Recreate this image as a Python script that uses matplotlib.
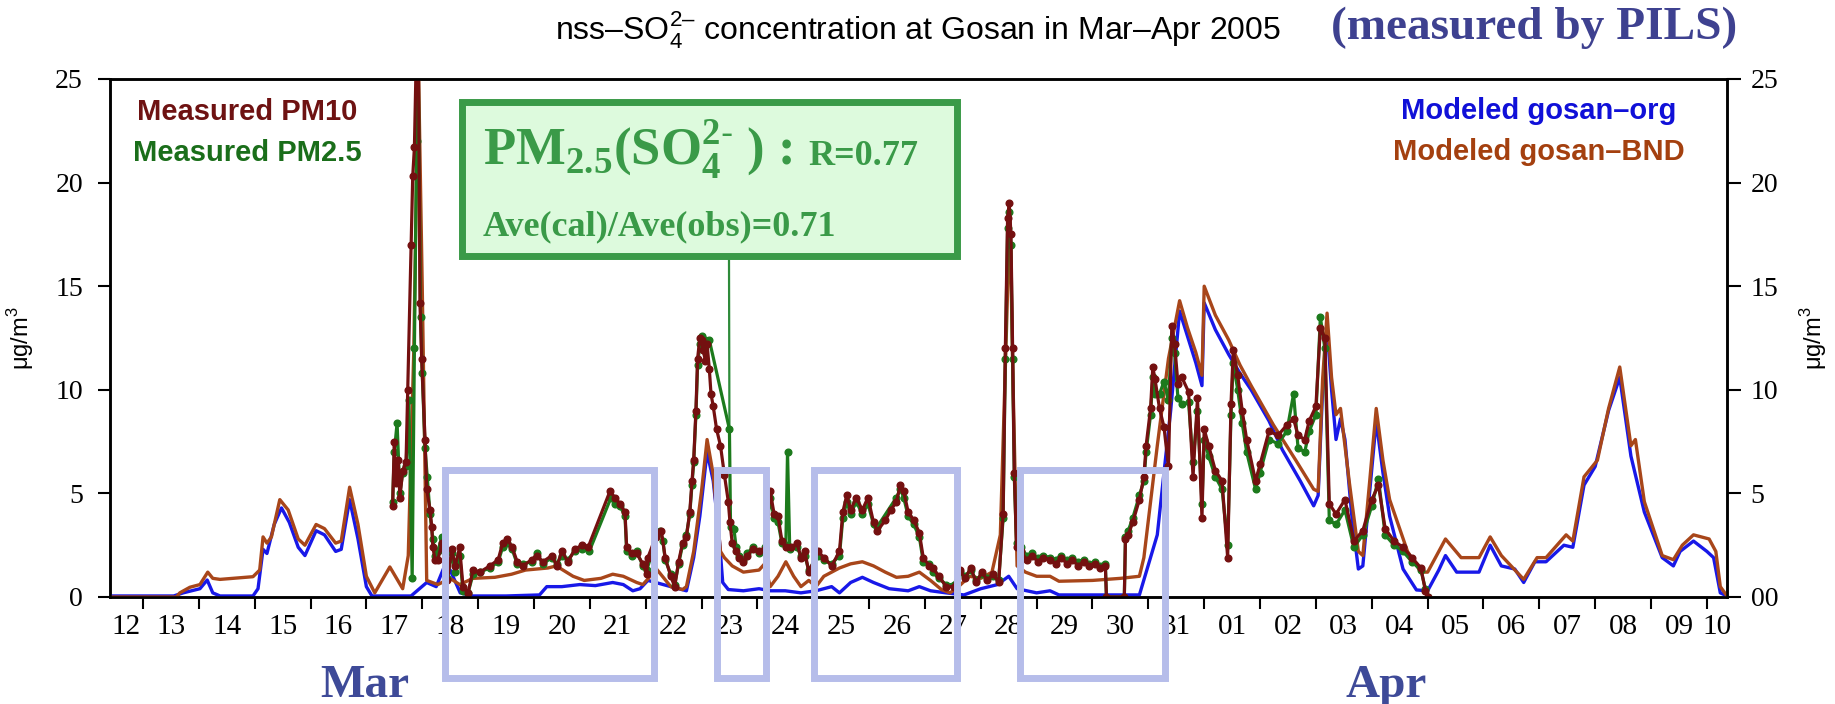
import matplotlib
matplotlib.use('Agg')
import matplotlib.pyplot as plt
from matplotlib.patches import Rectangle

plt.rcParams['mathtext.fontset'] = 'custom'
plt.rcParams['mathtext.rm'] = 'Liberation Sans'
plt.rcParams['mathtext.bf'] = 'Liberation Serif:bold'

# x = day of March (Apr 1 = 32), value in ug/m3
org = [(12.41, 0.05), (13.55, 0.05), (13.72, 0.2), (14.02, 0.4), (14.15, 0.82), (14.25, 0.2),
       (14.38, 0.05), (14.97, 0.05), (15.06, 0.4), (15.15, 2.3), (15.22, 2.1), (15.35, 3.5),
       (15.48, 4.3), (15.62, 3.6), (15.78, 2.4), (15.9, 2.0), (16.1, 3.2), (16.25, 3.0),
       (16.45, 2.2), (16.55, 2.3), (16.7, 4.7), (16.85, 2.8), (17.0, 0.5), (17.1, 0.05),
       (17.8, 0.05), (17.95, 0.4), (18.08, 0.7), (18.25, 0.5), (18.4, 1.5), (18.5, 1.3),
       (18.68, 0.2), (18.9, 0.05), (19.5, 0.05), (20.1, 0.1), (20.23, 0.5), (20.5, 0.5),
       (20.82, 0.6), (21.1, 0.55), (21.41, 0.7), (21.6, 0.6), (21.77, 0.3), (21.9, 0.4),
       (22.04, 0.8), (22.18, 0.7), (22.45, 0.5), (22.73, 0.3), (22.86, 1.9), (22.97, 3.9),
       (23.10, 7.0), (23.21, 5.6), (23.31, 3.1), (23.38, 0.7), (23.48, 0.36), (23.75, 0.3),
       (24.03, 0.4), (24.23, 0.3), (24.5, 0.3), (24.78, 0.2), (25.05, 0.3), (25.33, 0.5),
       (25.47, 0.2), (25.67, 0.7), (25.88, 0.95), (26.08, 0.7), (26.36, 0.4), (26.7, 0.3),
       (26.9, 0.5), (27.1, 0.3), (27.38, 0.2), (27.7, 0.1), (28.0, 0.4), (28.3, 0.6),
       (28.5, 1.0), (28.65, 0.4), (29.0, 0.2), (29.24, 0.3), (29.4, 0.1), (30.84, 0.1),
       (31.16, 3.0), (31.4, 9.0), (31.56, 13.8), (31.7, 12.6), (31.85, 11.3), (31.96, 10.2),
       (32.0, 14.2), (32.2, 12.9), (32.44, 11.7), (32.64, 10.8), (32.84, 10.0), (33.16, 8.5),
       (33.4, 7.1), (33.72, 5.6), (33.96, 4.4), (34.04, 4.9), (34.12, 10.0), (34.2, 13.0),
       (34.28, 10.0), (34.36, 7.6), (34.44, 8.6), (34.52, 7.6), (34.64, 4.0), (34.76, 1.35),
       (34.84, 1.5), (34.96, 5.0), (35.08, 8.5), (35.2, 6.0), (35.32, 3.9), (35.56, 1.35),
       (35.8, 0.34), (36.0, 0.3), (36.2, 1.3), (36.32, 2.0), (36.52, 1.2), (36.92, 1.2),
       (37.12, 2.5), (37.32, 1.5), (37.56, 1.35), (37.72, 0.7), (37.92, 1.7), (38.12, 1.7),
       (38.44, 2.5), (38.6, 2.4), (38.8, 5.4), (39.0, 6.3), (39.24, 9.0), (39.44, 10.6),
       (39.64, 6.8), (39.88, 4.1), (40.2, 1.9), (40.4, 1.5), (40.52, 2.2), (40.76, 2.7),
       (41.0, 2.2), (41.12, 1.9), (41.24, 0.2), (41.36, 0.05)]

bnd = [(12.41, 0.0), (13.6, 0.0), (13.66, 0.2), (13.84, 0.47), (14.02, 0.6), (14.16, 1.2),
       (14.25, 0.9), (14.38, 0.85), (14.97, 0.98), (15.09, 1.3), (15.15, 2.9), (15.22, 2.6),
       (15.3, 2.9), (15.45, 4.7), (15.6, 4.2), (15.78, 2.8), (15.9, 2.5), (16.1, 3.5),
       (16.25, 3.3), (16.45, 2.6), (16.55, 2.7), (16.7, 5.3), (16.85, 3.5), (17.0, 1.0),
       (17.15, 0.2), (17.42, 1.45), (17.65, 0.4), (17.75, 2.0), (17.85, 12.0), (17.93, 26.0),
       (18.0, 15.0), (18.08, 0.8), (18.28, 0.6), (18.5, 0.9), (18.67, 0.6), (18.91, 0.9),
       (19.3, 0.95), (19.6, 1.1), (19.85, 1.3), (20.25, 1.4), (20.4, 1.5), (20.7, 1.0),
       (20.9, 0.8), (21.2, 0.9), (21.41, 1.1), (21.6, 1.0), (21.84, 0.7), (21.95, 0.6),
       (22.05, 0.9), (22.18, 1.4), (22.45, 0.5), (22.66, 0.36), (22.73, 0.5), (22.86, 2.2),
       (23.0, 5.1), (23.1, 7.6), (23.21, 5.9), (23.34, 2.2), (23.41, 1.9), (23.55, 1.5),
       (23.75, 1.2), (24.03, 1.3), (24.13, 1.6), (24.23, 0.5), (24.37, 1.0), (24.51, 1.7),
       (24.65, 1.0), (24.78, 0.5), (24.92, 0.8), (25.05, 0.5), (25.19, 1.0), (25.33, 1.2),
       (25.47, 1.4), (25.67, 1.6), (25.88, 1.7), (26.08, 1.5), (26.29, 1.2), (26.49, 0.95),
       (26.7, 1.0), (26.9, 1.2), (27.1, 0.8), (27.3, 0.35), (27.45, 0.2), (27.6, 0.5),
       (27.8, 1.0), (28.0, 0.9), (28.2, 1.2), (28.35, 3.0), (28.45, 12.0), (28.52, 18.5),
       (28.58, 10.0), (28.65, 1.5), (28.8, 1.2), (29.0, 1.0), (29.24, 1.0), (29.4, 0.76),
       (30.0, 0.8), (30.5, 0.9), (30.84, 1.0), (30.92, 1.9), (31.16, 7.3), (31.36, 11.5),
       (31.56, 14.3), (31.7, 13.0), (31.85, 11.8), (31.96, 10.7), (32.0, 15.0), (32.2, 13.6),
       (32.44, 12.4), (32.64, 11.2), (32.84, 10.2), (33.24, 8.3), (33.64, 6.6), (33.96, 5.2),
       (34.04, 5.1), (34.12, 10.5), (34.2, 13.7), (34.28, 10.6), (34.36, 8.8), (34.44, 9.1),
       (34.6, 5.5), (34.76, 2.2), (34.84, 2.0), (34.96, 5.5), (35.08, 9.1), (35.2, 6.6),
       (35.32, 4.7), (35.64, 2.2), (35.88, 1.2), (36.0, 1.2), (36.32, 2.8), (36.6, 1.9),
       (36.92, 1.9), (37.12, 2.9), (37.32, 2.0), (37.72, 0.85), (37.96, 1.9), (38.12, 1.9),
       (38.48, 3.0), (38.6, 2.7), (38.8, 5.8), (39.04, 6.6), (39.24, 9.1), (39.44, 11.1),
       (39.64, 7.3), (39.72, 7.6), (39.88, 4.6), (40.2, 2.0), (40.4, 1.8), (40.56, 2.5),
       (40.76, 3.0), (41.04, 2.8), (41.16, 2.2), (41.24, 0.5), (41.36, 0.05)]

pm10 = [(17.47, 4.4), (17.50, 7.5), (17.53, 5.5), (17.57, 6.6), (17.60, 4.8), (17.65, 6.1),
        (17.71, 6.5), (17.74, 10.0), (17.80, 17.0), (17.83, 20.3), (17.86, 21.7), (17.90, 27.0),
        (17.93, 27.0), (17.96, 14.2), (17.99, 11.5), (18.05, 7.6), (18.08, 5.2), (18.14, 4.2),
        (18.17, 3.4), (18.19, 2.4), (18.23, 1.8), (18.28, 1.8), (18.35, 2.6), (18.45, 0.8),
        (18.53, 2.3), (18.59, 1.5), (18.67, 2.4), (18.73, 0.5), (18.82, 0.2), (18.91, 1.3),
        (19.03, 1.2), (19.21, 1.5), (19.36, 1.8), (19.44, 2.6), (19.52, 2.8), (19.61, 2.4),
        (19.70, 1.7), (19.80, 1.5), (19.96, 1.8), (20.05, 2.0), (20.16, 1.7), (20.32, 2.0),
        (20.41, 1.5), (20.50, 2.2), (20.61, 1.7), (20.73, 2.3), (20.86, 2.5), (20.97, 2.4),
        (21.36, 5.1), (21.45, 4.8), (21.54, 4.5), (21.63, 4.1), (21.66, 2.4), (21.75, 2.1),
        (21.84, 2.1), (21.95, 1.6), (22.02, 1.1), (22.04, 1.9), (22.18, 2.9), (22.28, 3.2),
        (22.35, 1.9), (22.45, 1.0), (22.52, 0.5), (22.59, 1.7), (22.66, 2.6), (22.73, 2.9),
        (22.79, 4.1), (22.83, 5.6), (22.86, 6.6), (22.90, 9.0), (22.93, 11.5), (22.97, 12.5),
        (23.00, 12.4), (23.03, 11.9), (23.07, 11.4), (23.10, 12.2), (23.14, 11.0), (23.17, 9.8),
        (23.21, 9.2), (23.27, 8.1), (23.34, 7.3), (23.41, 5.9), (23.48, 4.6), (23.51, 3.6),
        (23.55, 2.6), (23.62, 2.2), (23.68, 1.9), (23.75, 1.7), (23.82, 2.0), (23.92, 2.3),
        (24.03, 2.2), (24.13, 2.3), (24.23, 5.1), (24.30, 4.0), (24.37, 3.9), (24.44, 2.7),
        (24.51, 2.4), (24.61, 2.4), (24.71, 2.6), (24.78, 1.9), (24.85, 2.2), (24.92, 1.2),
        (25.09, 2.2), (25.19, 1.9), (25.33, 1.5), (25.47, 2.2), (25.53, 4.1), (25.60, 4.9),
        (25.67, 4.2), (25.77, 4.8), (25.88, 4.2), (25.98, 4.8), (26.08, 3.6), (26.15, 3.2),
        (26.29, 3.7), (26.39, 4.2), (26.49, 4.6), (26.56, 5.4), (26.62, 5.1), (26.70, 4.1),
        (26.80, 3.7), (26.90, 3.1), (26.97, 1.9), (27.08, 1.5), (27.14, 1.4), (27.25, 1.0),
        (27.38, 0.5), (27.52, 0.5), (27.62, 1.3), (27.72, 0.9), (27.82, 1.4), (27.92, 0.7),
        (28.02, 1.2), (28.12, 0.8), (28.22, 1.1), (28.32, 0.7), (28.40, 4.0), (28.44, 12.0),
        (28.48, 18.3), (28.51, 19.0), (28.54, 17.5), (28.57, 12.0), (28.60, 6.0), (28.64, 2.4),
        (28.72, 2.2), (28.82, 1.8), (28.92, 2.0), (29.02, 1.7), (29.12, 1.9), (29.24, 1.8),
        (29.34, 1.6), (29.44, 1.9), (29.54, 1.6), (29.64, 1.8), (29.74, 1.5), (29.84, 1.7),
        (29.94, 1.5), (30.04, 1.6), (30.14, 1.4), (30.23, 1.5), (30.25, 0.0), (30.57, 0.0),
        (30.59, 2.8), (30.64, 3.0), (30.72, 3.6), (30.84, 4.7), (30.92, 5.8), (30.96, 7.3),
        (31.04, 9.1), (31.08, 11.1), (31.12, 10.5), (31.20, 9.1), (31.28, 8.2), (31.36, 6.3),
        (31.42, 13.1), (31.47, 12.2), (31.53, 10.3), (31.60, 10.6), (31.72, 9.9), (31.80, 5.8),
        (31.88, 9.6), (31.96, 3.8), (32.00, 8.1), (32.08, 7.3), (32.20, 6.1), (32.32, 5.6),
        (32.42, 1.9), (32.48, 9.3), (32.52, 11.9), (32.60, 10.7), (32.68, 9.0), (32.76, 7.6),
        (32.92, 5.6), (33.00, 6.4), (33.16, 8.0), (33.32, 7.8), (33.48, 8.3), (33.60, 8.6),
        (33.68, 7.8), (33.80, 7.6), (33.88, 8.5), (34.00, 9.2), (34.08, 13.0), (34.16, 12.5),
        (34.24, 4.5), (34.36, 4.0), (34.52, 4.7), (34.68, 2.7), (34.84, 3.2), (35.00, 4.7),
        (35.12, 5.4), (35.24, 3.3), (35.40, 2.7), (35.56, 2.4), (35.72, 1.9), (35.88, 1.4),
        (35.96, 0.3), (36.00, 0.0)]

pm25 = [(17.47, 4.6), (17.50, 7.0), (17.55, 8.4), (17.60, 5.0), (17.65, 6.0), (17.71, 6.3),
        (17.76, 9.5), (17.82, 0.9), (17.86, 12.0), (17.90, 22.0), (17.93, 25.5), (17.97, 13.5),
        (18.00, 10.8), (18.05, 7.2), (18.09, 5.8), (18.14, 4.0), (18.19, 2.8), (18.23, 2.0),
        (18.28, 2.2), (18.35, 2.9), (18.45, 0.9), (18.53, 2.1), (18.59, 1.2), (18.67, 2.0),
        (18.73, 0.3), (18.82, 0.2), (18.91, 1.1), (19.03, 1.2), (19.21, 1.4), (19.36, 1.7),
        (19.44, 2.4), (19.52, 2.6), (19.61, 2.3), (19.70, 1.6), (19.80, 1.6), (19.96, 1.7),
        (20.05, 2.1), (20.16, 1.6), (20.32, 1.9), (20.41, 1.6), (20.50, 2.0), (20.61, 1.8),
        (20.73, 2.2), (20.86, 2.3), (20.99, 2.2), (21.38, 4.8), (21.45, 4.5), (21.54, 4.4),
        (21.63, 3.9), (21.66, 2.2), (21.75, 2.0), (21.84, 2.2), (21.95, 1.5), (22.02, 1.3),
        (22.10, 2.0), (22.26, 3.2), (22.31, 2.7), (22.35, 1.8), (22.45, 1.1), (22.52, 0.6),
        (22.59, 1.6), (22.66, 2.5), (22.73, 3.0), (22.79, 4.0), (22.83, 5.4), (22.86, 6.5),
        (22.90, 8.8), (22.93, 11.2), (22.97, 12.2), (23.00, 12.6), (23.03, 12.0), (23.07, 12.4),
        (23.10, 12.3), (23.14, 12.4), (23.50, 8.1), (23.52, 3.4), (23.58, 3.3), (23.62, 2.4),
        (23.68, 2.0), (23.75, 1.8), (23.82, 2.1), (23.92, 2.4), (24.03, 2.1), (24.13, 2.4),
        (24.23, 4.8), (24.30, 3.8), (24.37, 3.6), (24.44, 2.6), (24.51, 2.5), (24.54, 7.0),
        (24.58, 2.3), (24.71, 2.4), (24.78, 2.0), (24.85, 2.0), (24.92, 1.3), (25.09, 2.0),
        (25.19, 1.8), (25.33, 1.6), (25.47, 2.0), (25.53, 3.8), (25.60, 4.6), (25.67, 4.0),
        (25.77, 4.6), (25.88, 4.0), (25.98, 4.5), (26.08, 3.5), (26.15, 3.4), (26.49, 4.8),
        (26.56, 5.2), (26.62, 4.8), (26.70, 3.9), (26.80, 3.5), (26.90, 2.9), (26.97, 1.7),
        (27.08, 1.6), (27.14, 1.2), (27.25, 0.9), (27.38, 0.6), (27.52, 0.6), (27.62, 1.2),
        (27.72, 1.0), (27.82, 1.3), (27.92, 0.8), (28.02, 1.1), (28.12, 0.9), (28.22, 1.0),
        (28.32, 0.8), (28.40, 3.8), (28.44, 11.5), (28.48, 17.8), (28.51, 18.6), (28.54, 17.0),
        (28.57, 11.5), (28.60, 5.8), (28.64, 2.6), (28.72, 2.4), (28.82, 2.0), (28.92, 2.1),
        (29.02, 1.9), (29.12, 2.0), (29.24, 1.9), (29.34, 1.8), (29.44, 2.0), (29.54, 1.8),
        (29.64, 1.9), (29.74, 1.7), (29.84, 1.8), (29.94, 1.6), (30.04, 1.7), (30.14, 1.5),
        (30.23, 1.6), (30.25, 0.0), (30.57, 0.0), (30.59, 2.9), (30.64, 3.2), (30.72, 3.8),
        (30.84, 4.9), (30.92, 5.6), (30.96, 7.0), (31.04, 8.8), (31.08, 10.6), (31.12, 9.8),
        (31.20, 9.8), (31.28, 10.4), (31.36, 9.5), (31.42, 12.5), (31.47, 11.8), (31.53, 9.6),
        (31.60, 9.3), (31.72, 9.4), (31.80, 6.5), (31.88, 9.0), (31.96, 4.5), (32.00, 7.6),
        (32.08, 6.8), (32.20, 5.8), (32.32, 5.2), (32.42, 2.5), (32.48, 8.8), (32.52, 11.3),
        (32.60, 10.0), (32.68, 8.4), (32.76, 7.0), (32.92, 5.2), (33.00, 6.0), (33.16, 7.6),
        (33.32, 7.4), (33.48, 8.0), (33.60, 9.8), (33.68, 7.2), (33.80, 7.0), (33.88, 8.0),
        (34.00, 8.8), (34.08, 13.5), (34.16, 12.0), (34.24, 3.7), (34.36, 3.5), (34.52, 4.2),
        (34.68, 2.4), (34.84, 3.0), (35.00, 4.4), (35.12, 5.7), (35.24, 3.0), (35.40, 2.5),
        (35.56, 2.2), (35.72, 1.7), (35.88, 1.3), (35.96, 0.4), (36.00, 0.0)]

day_labels = ['12', '13', '14', '15', '16', '17', '18', '19', '20', '21', '22', '23', '24',
              '25', '26', '27', '28', '29', '30', '31', '01', '02', '03', '04', '05', '06',
              '07', '08', '09', '10']
first_day = 12
y_ticks = [0, 5, 10, 15, 20, 25]
right_labels = ['00', '5', '10', '15', '20', '25']
x_min, x_max = 12.41, 41.36

W, H = 1835, 704


def fx(px):
    return px / W


def fy(py):
    return 1 - py / H


fig = plt.figure(figsize=(W / 100, H / 100), dpi=100)
ax = fig.add_axes([fx(110), fy(597), (1727 - 110) / W, (597 - 79) / H])


def xs(series):
    return [p[0] for p in series]


def ys(series):
    return [p[1] for p in series]


ax.plot(xs(org), ys(org), color='#1818e8', lw=2.4, zorder=3)
ax.plot(xs(bnd), ys(bnd), color='#a8461a', lw=2.4, zorder=4)
ax.plot(xs(pm25), ys(pm25), color='#1c7a1c', lw=2.3, marker='o', ms=4.8, zorder=5)
ax.plot(xs(pm10), ys(pm10), color='#741010', lw=2.3, marker='o', ms=4.8, zorder=6)

ax.set_xlim(x_min, x_max)
ax.set_ylim(0, 25)

# day boundaries as ticks, labels centred on the visible part of each day
ax.set_xticks(range(first_day + 1, int(x_max) + 1))
ax.set_xticklabels([])
centres = []
for i in range(len(day_labels)):
    a = max(first_day + i, x_min)
    b = min(first_day + i + 1, x_max)
    centres.append((a + b) / 2)
ax.set_xticks(centres, minor=True)
ax.set_xticklabels(day_labels, minor=True, family='Liberation Serif', fontsize=21)
ax.tick_params(axis='x', which='minor', length=0, pad=12)
ax.tick_params(axis='x', which='major', length=8.5, width=1.5, direction='out')

ax.set_yticks(y_ticks)
ax.set_yticklabels([str(v) for v in y_ticks], family='Liberation Serif', fontsize=20)
ax.tick_params(axis='y', length=8.5, width=1.5, direction='out', pad=11)
ax.set_ylabel('μg/m$^3$', family='Liberation Sans', fontsize=17, labelpad=14)

ax2 = ax.twinx()
ax2.set_ylim(0, 25)
ax2.set_yticks(y_ticks)
ax2.set_yticklabels(right_labels, family='Liberation Serif', fontsize=20)
ax2.tick_params(axis='y', length=10, width=1.5, direction='out', pad=7)
ax2.set_ylabel('μg/m$^3$', family='Liberation Sans', fontsize=17, labelpad=14)

for a in (ax, ax2):
    for s in a.spines.values():
        s.set_linewidth(1.8)

# titles
fig.text(fx(918), fy(30), r'nss–SO$_4^{2\text{–}}$ concentration at Gosan in Mar–Apr 2005',
         ha='center', va='center', family='Liberation Sans', fontsize=23)
fig.text(fx(1534), fy(28), '(measured by PILS)', ha='center', va='center',
         family='Liberation Serif', fontweight='bold', fontsize=34, color='#3e4190')

# legend texts
fig.text(fx(137), fy(120), 'Measured PM10', ha='left', va='baseline', family='Liberation Sans',
         fontweight='bold', fontsize=21, color='#6e1212')
fig.text(fx(133), fy(161), 'Measured PM2.5', ha='left', va='baseline', family='Liberation Sans',
         fontweight='bold', fontsize=21, color='#1a6e1a')
fig.text(fx(1539), fy(119), 'Modeled gosan–org', ha='center', va='baseline',
         family='Liberation Sans', fontweight='bold', fontsize=21, color='#1010d8')
fig.text(fx(1539), fy(160), 'Modeled gosan–BND', ha='center', va='baseline',
         family='Liberation Sans', fontweight='bold', fontsize=21, color='#a4400f')

# statistics box
box_green = '#3a9a48'
fig.patches.append(Rectangle((fx(461.5), fy(255.5)), (956.5 - 461.5) / W, (255.5 - 101.5) / H,
                             transform=fig.transFigure, facecolor='#ddfadd', edgecolor=box_green,
                             lw=5, zorder=10))
fig.text(fx(483), fy(165), r'PM$_{\mathbf{2.5}}$(SO$_{\mathbf{4}}^{\mathbf{2}\text{-}}$ ) :',
         ha='left', va='baseline', family='Liberation Serif', fontweight='bold',
         fontsize=38, color=box_green, zorder=11)
fig.text(fx(808), fy(165), 'R=0.77', ha='left', va='baseline', family='Liberation Serif',
         fontweight='bold', fontsize=26, color=box_green, zorder=11)
fig.text(fx(483), fy(235), 'Ave(cal)/Ave(obs)=0.71', ha='left', va='baseline',
         family='Liberation Serif', fontweight='bold', fontsize=26, color=box_green, zorder=11)

k = xs(pm25).index(23.50)
ax.annotate('', xy=(pm25[k][0], pm25[k][1]), xycoords='data',
            xytext=(fx(729), fy(259)), textcoords='figure fraction',
            arrowprops=dict(arrowstyle='-', color='#2e8b3a', lw=1.6, shrinkA=0, shrinkB=0))

# highlight frames
frames = [(441, 657), (713, 769), (810, 960), (1016, 1168)]
for x0, x1 in frames:
    fig.patches.append(Rectangle((fx(x0 + 3.5), fy(677.5)), (x1 - x0 - 7) / W, (677.5 - 469.5) / H,
                                 transform=fig.transFigure, fill=False, edgecolor='#b6bdea',
                                 lw=5, zorder=12))

fig.text(fx(365), fy(697), 'Mar', ha='center', va='baseline', family='Liberation Serif',
         fontweight='bold', fontsize=34, color='#3e4a98')
fig.text(fx(1386), fy(697), 'Apr', ha='center', va='baseline', family='Liberation Serif',
         fontweight='bold', fontsize=34, color='#3e4a98')

fig.savefig('out.png', dpi=100)
